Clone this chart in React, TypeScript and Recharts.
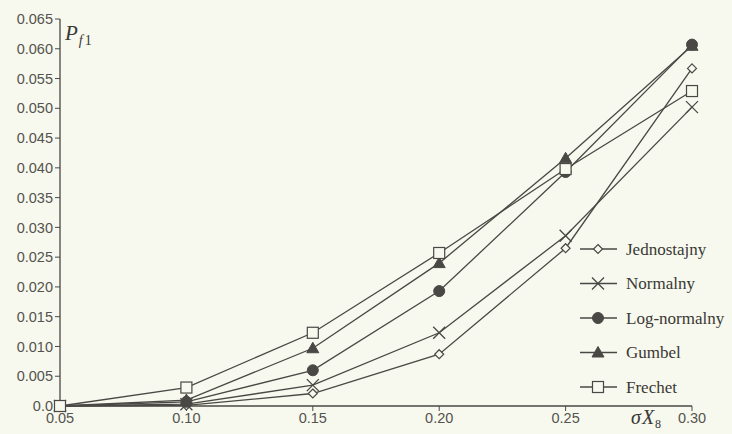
import React from 'react';
import { LineChart, Line, XAxis, YAxis, Customized } from 'recharts';

const sigmaX = [0.05, 0.1, 0.15, 0.2, 0.25, 0.3];
const jednostajny = [0, 0.0001, 0.0021, 0.0087, 0.0265, 0.0567];
const normalny = [0, 0.0003, 0.0035, 0.0123, 0.0286, 0.0502];
const logNormalny = [0, 0.0007, 0.006, 0.0193, 0.0393, 0.0607];
const gumbel = [0, 0.001, 0.0097, 0.024, 0.0416, 0.0605];
const frechet = [0, 0.0031, 0.0123, 0.0257, 0.0398, 0.0529];
const xTicks = [0.05, 0.1, 0.15, 0.2, 0.25, 0.3];
const yTicks = [0, 0.005, 0.01, 0.015, 0.02, 0.025, 0.03, 0.035, 0.04, 0.045, 0.05, 0.055, 0.06, 0.065];

const seriesNames = ['Jednostajny', 'Normalny', 'Log-normalny', 'Gumbel', 'Frechet'];
const seriesKeys = ['j', 'n', 'l', 'g', 'f'];
const markers = ['diamond', 'cross', 'circle', 'triangle', 'square'];

const data = sigmaX.map((x, i) => ({
  x,
  j: jednostajny[i],
  n: normalny[i],
  l: logNormalny[i],
  g: gumbel[i],
  f: frechet[i],
}));

const INK = '#4a4845';
const BG = '#f7f9ee';

function Marker({ type, cx, cy }: { type: string; cx: number; cy: number }) {
  if (type === 'diamond') {
    const s = 4.5;
    return <path d={`M${cx},${cy - s}L${cx + s},${cy}L${cx},${cy + s}L${cx - s},${cy}Z`} fill={BG} stroke={INK} strokeWidth={1.2} />;
  }
  if (type === 'cross') {
    const s = 6;
    return <path d={`M${cx - s},${cy - s}L${cx + s},${cy + s}M${cx - s},${cy + s}L${cx + s},${cy - s}`} stroke={INK} strokeWidth={1.3} fill="none" />;
  }
  if (type === 'circle') {
    return <circle cx={cx} cy={cy} r={5.5} fill={INK} stroke={INK} />;
  }
  if (type === 'triangle') {
    const s = 6;
    return <path d={`M${cx},${cy - s}L${cx + s},${cy + s * 0.75}L${cx - s},${cy + s * 0.75}Z`} fill={INK} stroke={INK} />;
  }
  const s = 5.5;
  return <rect x={cx - s} y={cy - s} width={2 * s} height={2 * s} fill={BG} stroke={INK} strokeWidth={1.2} />;
}

const makeDot = (type: string) => (props: any) => {
  const { cx, cy, index } = props;
  if (cx == null || cy == null) return <g key={index} />;
  return (
    <g key={`${type}-${index}`}>
      <Marker type={type} cx={cx} cy={cy} />
    </g>
  );
};

const LegendAndTitles = () => (
  <g>
    <g fontFamily='"Liberation Serif", serif' fill="#3a3835" fontSize={17}>
      {seriesNames.map((name, i) => {
        const y = 249 + i * 34.5;
        return (
          <g key={name}>
            <line x1={580} y1={y} x2={617} y2={y} stroke={INK} strokeWidth={1.3} />
            <Marker type={markers[i]} cx={598} cy={y} />
            <text x={626} y={y} dominantBaseline="central">{name}</text>
          </g>
        );
      })}
    </g>
    <g fontFamily='"Liberation Serif", serif' fill="#3a3835">
      <text x={65} y={40} fontSize={21} fontStyle="italic">
        P
        <tspan fontSize={14} dy={5} dx={1}>f</tspan>
        <tspan fontSize={14} fontStyle="normal" dx={2}>1</tspan>
      </text>
      <text x={631} y={424} fontSize={20} fontStyle="italic">
        σ
        <tspan dx={1}>X</tspan>
        <tspan fontSize={12} fontStyle="normal" dy={4} dx={1}>8</tspan>
      </text>
    </g>
  </g>
);

const tickStyle = { fill: '#55534f', fontSize: 14.5, fontFamily: '"Liberation Sans", Arial, sans-serif' };

export default function App() {
  return (
    <div style={{ position: 'absolute', left: 0, top: 0, width: 732, height: 434, background: BG }}>
      <LineChart width={732} height={434} data={data} margin={{ top: 19, right: 40, bottom: 0, left: 0 }}>
        <XAxis
          dataKey="x"
          type="number"
          domain={[0.05, 0.3]}
          ticks={xTicks}
          tickFormatter={(v: number) => v.toFixed(2)}
          stroke={INK}
          tick={tickStyle}
          tickSize={5}
          height={28}
          axisLine={{ stroke: INK, strokeWidth: 1.3 }}
          tickLine={{ stroke: INK }}
        />
        <YAxis
          type="number"
          domain={[0, 0.065]}
          ticks={yTicks}
          tickFormatter={(v: number) => (v === 0 ? '0.0' : v.toFixed(3))}
          stroke={INK}
          tick={tickStyle}
          tickSize={5}
          width={60}
          interval={0}
          axisLine={{ stroke: INK, strokeWidth: 1.3 }}
          tickLine={{ stroke: INK }}
        />
        {seriesKeys.map((k, i) => (
          <Line
            key={k}
            dataKey={k}
            name={seriesNames[i]}
            stroke={INK}
            strokeWidth={1.3}
            dot={makeDot(markers[i])}
            activeDot={false}
            isAnimationActive={false}
          />
        ))}
        <Customized component={LegendAndTitles} />
      </LineChart>
    </div>
  );
}
